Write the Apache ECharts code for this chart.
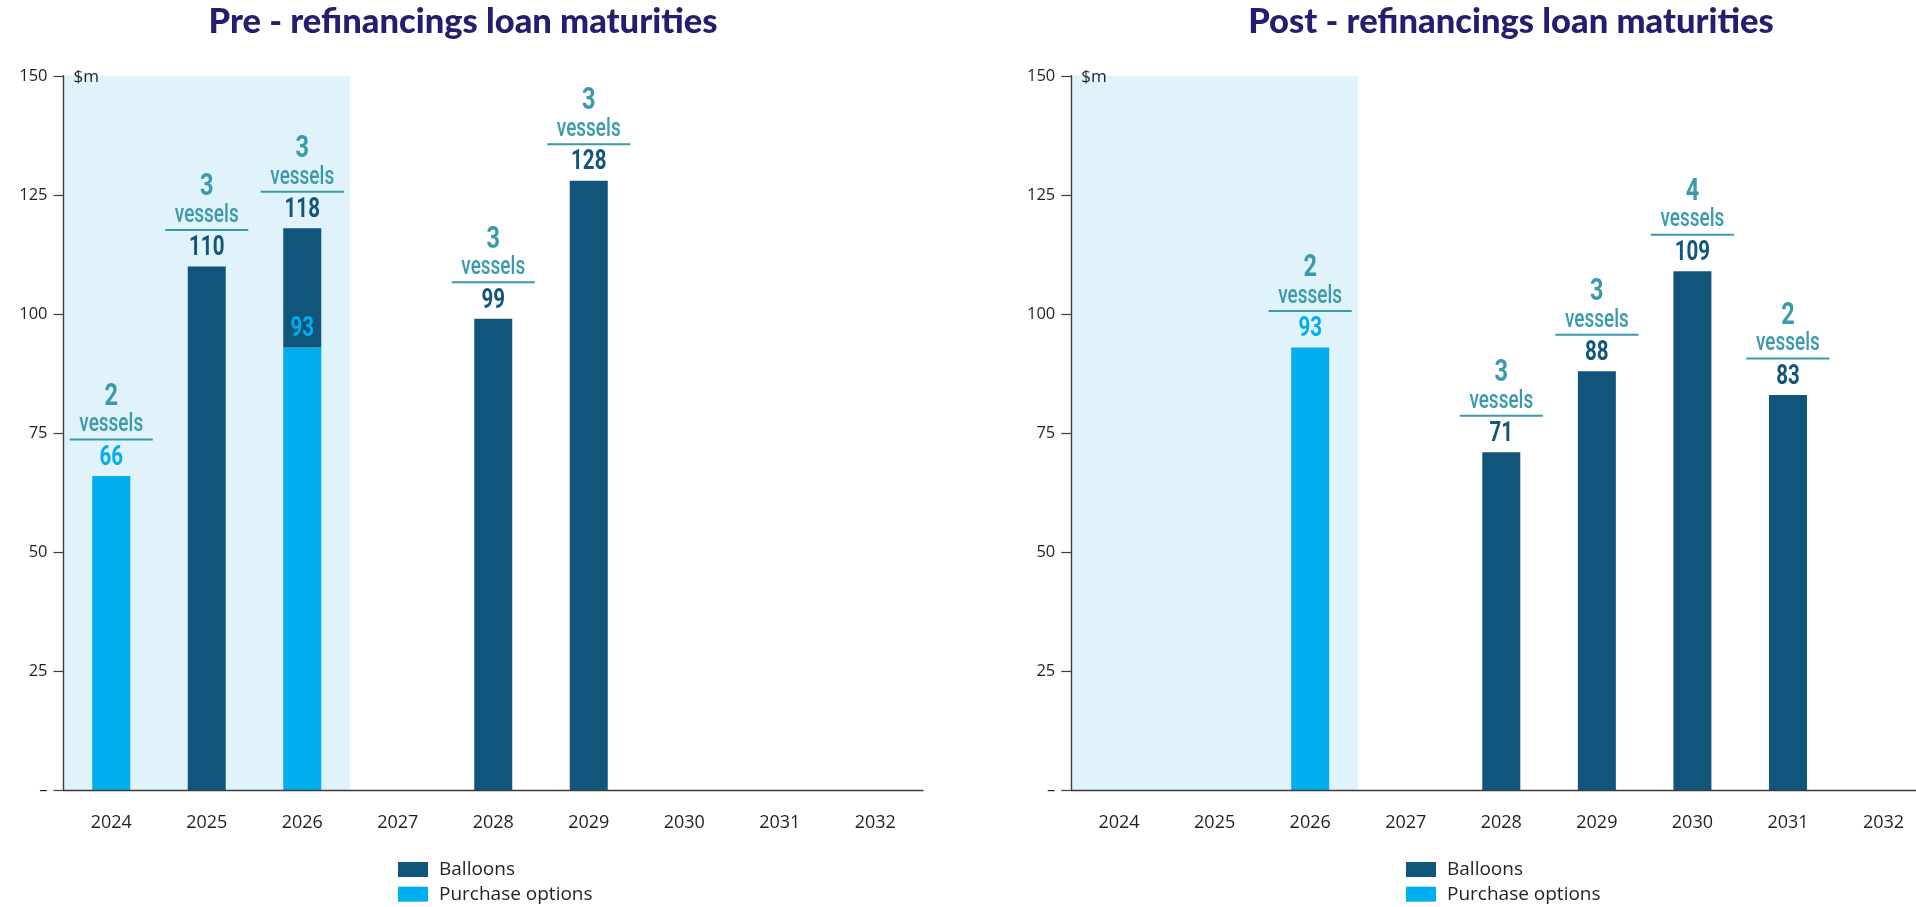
<!DOCTYPE html>
<html>
<head>
<meta charset="utf-8">
<title>Loan maturities</title>
<script src="https://cdn.jsdelivr.net/npm/echarts@6/dist/echarts.min.js"></script>
<style>
  html, body { margin: 0; padding: 0; background: #ffffff; }
  #chart { width: 1916px; height: 907px; }
</style>
</head>
<body>
<div id="chart"></div>
<script>
// Maturity years shown on both panels
const years = ['2024', '2025', '2026', '2027', '2028', '2029', '2030', '2031', '2032'];
const yTicks = [0, 25, 50, 75, 100, 125, 150];

// Pre-refinancing maturities, $m
const preBalloons = [null, 110, 25, null, 99, 128, null, null, null];
const prePurchase = [66, null, 93, null, null, null, null, null, null];
const preVessels  = [2, 3, 3, null, 3, 3, null, null, null];

// Post-refinancing maturities, $m
const postBalloons = [null, null, null, null, 71, 88, 109, 83, null];
const postPurchase = [null, null, 93, null, null, null, null, null, null];
const postVessels  = [null, null, 2, null, 3, 3, 4, 2, null];

// Years highlighted with the light band
const shadedYears = ['2024', '2026'];

const titles = ['Pre - refinancings loan maturities', 'Post - refinancings loan maturities'];

const C_DARK = '#11557a';
const C_LIGHT = '#00aeef';
const C_TEAL = '#3a9aac';
const C_SHADE = '#e0f2fa';
const C_TEXT = '#231f20';
const C_AXIS = '#3c3c3c';
const AXIS_FONT = '"Open Sans", "Noto Sans", sans-serif';
const LABEL_FONT = 'Roboto, "Noto Sans", sans-serif';
const SQUEEZE = 0.76;

const yMin = yTicks[0];
const yMax = yTicks[yTicks.length - 1];
const yStep = yTicks[1] - yTicks[0];

// Annotation rows: [category index, value, vessels, label, kind]
// kind 0 = dark label (total incl. balloons), 1 = light label (purchase options)
function buildAnnotations(balloons, purchase, vessels) {
  const rows = [];
  years.forEach((y, i) => {
    const b = balloons[i] || 0;
    const p = purchase[i] || 0;
    const total = b + p;
    if (total > 0) {
      rows.push([i, total, vessels[i] || 0, total, b > 0 ? 0 : 1]);
    }
    if (b > 0 && p > 0) {
      rows.push([i, p, 0, p, 1]);
    }
  });
  return rows;
}

function renderAnnotation(params, api) {
  const pt = api.coord([api.value(0), api.value(1)]);
  const cx = pt[0];
  const ty = pt[1];
  const vessels = api.value(2);
  const label = api.value(3);
  const kind = api.value(4);
  const lineHalf = api.size([1, 0])[0] * 0.435;
  const children = [{
    type: 'text', x: cx, y: ty - 18, scaleX: SQUEEZE,
    style: {
      text: String(label), font: 'bold 27px ' + LABEL_FONT,
      fill: kind ? C_LIGHT : C_DARK, align: 'center', verticalAlign: 'middle'
    }
  }];
  if (vessels) {
    children.push({
      type: 'line',
      shape: { x1: cx - lineHalf, y1: ty - 36.5, x2: cx + lineHalf, y2: ty - 36.5 },
      style: { stroke: C_TEAL, lineWidth: 2 }
    });
    children.push({
      type: 'text', x: cx, y: ty - 51, scaleX: SQUEEZE,
      style: {
        text: 'vessels', font: '500 25px ' + LABEL_FONT,
        fill: C_TEAL, align: 'center', verticalAlign: 'middle'
      }
    });
    children.push({
      type: 'text', x: cx, y: ty - 79, scaleX: SQUEEZE,
      style: {
        text: String(vessels), font: 'bold 31px ' + LABEL_FONT,
        fill: C_TEAL, align: 'center', verticalAlign: 'middle'
      }
    });
  }
  return { type: 'group', children: children };
}

function renderShade(params, api) {
  const a = api.coord([api.value(0), yMax]);
  const b = api.coord([api.value(1), yMin]);
  const bw = api.size([1, 0])[0];
  return {
    type: 'rect',
    shape: { x: a[0] - bw / 2, y: a[1], width: b[0] - a[0] + bw, height: b[1] - a[1] },
    style: { fill: C_SHADE }
  };
}

const shadeRange = [[years.indexOf(shadedYears[0]), years.indexOf(shadedYears[1])]];

// The right panel runs past the page edge, so outer-bounds fitting is switched off
const grids = [
  { left: 63.5, top: 75.8, width: 859.5, height: 714.8, outerBoundsMode: 'none' },
  { left: 1071.3, top: 75.8, width: 860, height: 714.8, outerBoundsMode: 'none' }
];

function xAxisFor(gi) {
  return {
    type: 'category', gridIndex: gi, data: years, z: 5,
    axisLine: { lineStyle: { color: C_AXIS, width: 1.4 } },
    axisTick: { alignWithLabel: true, length: 9, lineStyle: { color: C_AXIS, width: 1.2 } },
    axisLabel: { color: C_TEXT, fontSize: 18, fontFamily: AXIS_FONT, margin: 23 },
    splitLine: { show: false }
  };
}

function yAxisFor(gi) {
  return {
    type: 'value', gridIndex: gi, min: yMin, max: yMax, interval: yStep, z: 5,
    name: '$m', nameLocation: 'end', nameGap: -1,
    nameTextStyle: {
      color: C_TEXT, fontSize: 17, fontFamily: AXIS_FONT,
      align: 'left', verticalAlign: 'middle', padding: [0, 0, 0, 10]
    },
    axisLine: { show: true, lineStyle: { color: C_AXIS, width: 1.4 } },
    axisTick: { show: true, length: 10, lineStyle: { color: C_AXIS, width: 1.2 } },
    axisLabel: {
      color: C_TEXT, fontSize: 16.5, fontFamily: AXIS_FONT, margin: 16,
      formatter: v => (v === 0 ? '\u2013' : String(v))
    },
    splitLine: { show: false }
  };
}

function panelSeries(gi, balloons, purchase, vessels) {
  return [
    {
      type: 'custom', xAxisIndex: gi, yAxisIndex: gi, z: 1, silent: true,
      renderItem: renderShade, data: shadeRange, encode: { x: [0, 1] }
    },
    {
      name: 'Purchase options', type: 'bar', xAxisIndex: gi, yAxisIndex: gi,
      stack: 'm' + gi, barWidth: 38, data: purchase,
      itemStyle: { color: C_LIGHT }, z: 2
    },
    {
      name: 'Balloons', type: 'bar', xAxisIndex: gi, yAxisIndex: gi,
      stack: 'm' + gi, barWidth: 38, data: balloons,
      itemStyle: { color: C_DARK }, z: 2
    },
    {
      type: 'custom', xAxisIndex: gi, yAxisIndex: gi, z: 6, silent: true,
      renderItem: renderAnnotation,
      data: buildAnnotations(balloons, purchase, vessels),
      encode: { x: 0, y: 1 }
    }
  ];
}

function legendAt(left) {
  return {
    data: ['Balloons', 'Purchase options'], orient: 'vertical',
    left: left, top: 860, padding: 0, itemGap: 5.7,
    itemWidth: 30, itemHeight: 15, icon: 'rect', selectedMode: false,
    textStyle: { color: C_TEXT, fontSize: 19, fontFamily: AXIS_FONT, lineHeight: 19, padding: [0, 0, 0, 6] }
  };
}

const chart = echarts.init(document.getElementById('chart'), null, { renderer: 'canvas' });
chart.setOption({
  animation: false,
  backgroundColor: '#ffffff',
  graphic: [
    {
      type: 'text', x: 463, y: 22,
      style: { text: titles[0], font: '900 34.5px Lato, sans-serif', fill: '#231f6e', align: 'center', verticalAlign: 'middle' }
    },
    {
      type: 'text', x: 1511, y: 22,
      style: { text: titles[1], font: '900 34.5px Lato, sans-serif', fill: '#231f6e', align: 'center', verticalAlign: 'middle' }
    }
  ],
  legend: [legendAt(398), legendAt(1406)],
  grid: grids,
  xAxis: [xAxisFor(0), xAxisFor(1)],
  yAxis: [yAxisFor(0), yAxisFor(1)],
  series: [].concat(
    panelSeries(0, preBalloons, prePurchase, preVessels),
    panelSeries(1, postBalloons, postPurchase, postVessels)
  )
});
</script>
</body>
</html>
